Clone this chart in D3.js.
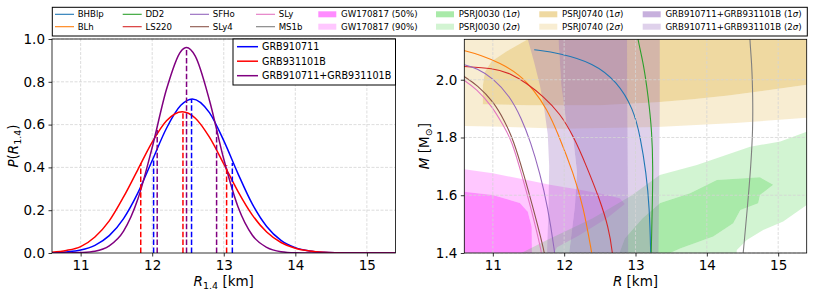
<!DOCTYPE html>
<html>
<head>
<meta charset="utf-8">
<script src="https://cdn.jsdelivr.net/npm/d3@7"></script>
<style>
  body { margin: 0; background: #fff; }
  svg { display: block; font-family: 'DejaVu Sans', sans-serif; }
</style>
</head>
<body>
<svg id="chart" width="814" height="298"></svg>
<script>
// ---- data ----

const rTicks = [11, 12, 13, 14, 15];
const pTicks = [0, 0.2, 0.4, 0.6, 0.8, 1.0];
const mTicks = [1.4, 1.6, 1.8, 2.0];

// left panel: P(R_1.4) posteriors
const grbNames = ['GRB910711', 'GRB931101B', 'GRB910711+GRB931101B'];

const pdf910711 = [
  [10.6, 0.001], [10.8, 0.005], [11.0, 0.014], [11.2, 0.036], [11.4, 0.081],
  [11.6, 0.161], [11.8, 0.281], [12.0, 0.432], [12.2, 0.583], [12.4, 0.690],
  [12.56, 0.720], [12.8, 0.656], [13.0, 0.525], [13.2, 0.370], [13.4, 0.228],
  [13.6, 0.124], [13.8, 0.059], [14.0, 0.025], [14.2, 0.009], [14.4, 0.003],
  [14.6, 0.001], [14.8, 0], [15.4, 0]
];
const pdf931101 = [
  [10.6, 0.004], [10.8, 0.012], [11.0, 0.030], [11.2, 0.075], [11.4, 0.150],
  [11.6, 0.262], [11.8, 0.390], [12.0, 0.518], [12.2, 0.618], [12.42, 0.660],
  [12.6, 0.631], [12.8, 0.541], [13.0, 0.416], [13.2, 0.287], [13.4, 0.177],
  [13.6, 0.098], [13.8, 0.049], [14.0, 0.022], [14.2, 0.009], [14.4, 0.003],
  [14.6, 0.001], [14.8, 0], [15.4, 0]
];
const pdfCombined = [
  [10.6, 0], [10.8, 0], [11.0, 0.002], [11.2, 0.008], [11.4, 0.033],
  [11.6, 0.102], [11.8, 0.252], [12.0, 0.493], [12.2, 0.765], [12.4, 0.942],
  [12.48, 0.960], [12.6, 0.921], [12.8, 0.714], [13.0, 0.439], [13.2, 0.215],
  [13.4, 0.083], [13.6, 0.026], [13.8, 0.006], [14.0, 0.001], [14.2, 0], [15.4, 0]
];

// dashed markers: [R, height] for lower bound, median, upper bound
const marks910711 = [[12.02, 0.44], [12.55, 0.72], [13.12, 0.42]];
const marks931101 = [[11.84, 0.42], [12.43, 0.66], [13.04, 0.41]];
const marksCombined = [[12.07, 0.575], [12.48, 0.96], [12.90, 0.575]];

// right panel: mass-radius curves [R, M], M decreasing along each list
const eosNames = ['BHBlp', 'BLh', 'DD2', 'LS220', 'SFHo', 'SLy4', 'SLy', 'MS1b'];

const eosBHBlp = [[11.58, 2.104], [11.94, 2.092], [12.41, 2.058], [12.74, 1.994], [12.97, 1.90],
  [13.07, 1.80], [13.15, 1.676], [13.195, 1.56], [13.214, 1.40], [13.215, 1.35]];
const eosBLh = [[10.5, 2.106], [10.6, 2.101], [10.82, 2.086], [11.1, 2.058], [11.38, 2.017],
  [11.57, 1.965], [11.756, 1.90], [11.92, 1.81], [12.13, 1.676],
  [12.27, 1.56], [12.387, 1.40], [12.42, 1.35]];
const eosDD2 = [[13.0, 2.2], [13.03, 2.14], [13.11, 2.06], [13.18, 1.94], [13.23, 1.82],
  [13.245, 1.70], [13.235, 1.55], [13.22, 1.40], [13.215, 1.35]];
const eosLS220 = [[10.5, 2.047], [10.6, 2.046], [11.007, 2.04], [11.24, 2.023], [11.475, 1.988],
  [11.71, 1.942], [11.94, 1.884], [12.13, 1.805], [12.317, 1.699], [12.5, 1.584],
  [12.62, 1.491], [12.68, 1.40], [12.69, 1.35]];
const eosSFHo = [[10.5, 2.057], [10.6, 2.052], [10.774, 2.04], [11.007, 2.005], [11.24, 1.942],
  [11.40, 1.867], [11.53, 1.785], [11.66, 1.676], [11.77, 1.56], [11.87, 1.40], [11.89, 1.35]];
const eosSLy4 = [[10.5, 2.027], [10.6, 2.011], [10.78, 1.982], [11.01, 1.924], [11.17, 1.855],
  [11.29, 1.79], [11.43, 1.676], [11.56, 1.56], [11.73, 1.40], [11.75, 1.35]];
const eosSLy = [[10.5, 2.014], [10.6, 1.998], [10.77, 1.968], [10.99, 1.908], [11.15, 1.84],
  [11.265, 1.79], [11.40, 1.676], [11.53, 1.56], [11.69, 1.40], [11.71, 1.35]];
const eosMS1b = [[14.6, 2.2], [14.6, 2.14], [14.63, 2.06], [14.645, 1.94], [14.645, 1.83],
  [14.62, 1.71], [14.57, 1.56], [14.51, 1.40], [14.49, 1.35]];

// credible regions (outer contour / inner contour), [R, M]
const gw90 = [[10.5, 1.695], [10.6, 1.69], [11.0, 1.676], [11.48, 1.653], [11.8, 1.636],
  [12.2, 1.62], [12.5, 1.606], [12.78, 1.59], [12.85, 1.57], [12.6, 1.52], [12.2, 1.46],
  [11.9, 1.42], [11.75, 1.35], [10.5, 1.35]];
const gw50 = [[10.5, 1.613], [10.6, 1.612], [11.0, 1.601], [11.38, 1.573], [11.49, 1.543],
  [11.545, 1.49], [11.55, 1.35], [10.5, 1.35]];

const psr0030Outer = [[11.3, 1.35], [11.4, 1.40], [11.76, 1.445], [12.4, 1.52], [12.95, 1.60],
  [13.34, 1.67], [13.86, 1.705], [14.28, 1.74], [14.607, 1.768], [15.03, 1.786], [15.4, 1.82],
  [15.5, 1.83], [15.5, 1.56], [15.4, 1.566], [15.07, 1.509], [14.79, 1.48], [14.56, 1.445],
  [14.42, 1.41], [14.4, 1.35]];
const psr0030Inner = [[12.7, 1.35], [12.85, 1.45], [13.1, 1.52], [13.345, 1.573], [13.765, 1.607],
  [14.14, 1.653], [14.745, 1.662], [14.93, 1.636], [14.745, 1.601], [14.72, 1.572],
  [14.47, 1.549], [14.37, 1.503], [14.09, 1.457], [13.625, 1.416], [13.485, 1.40], [13.45, 1.35]];

const psr0740Outer = [[10.5, 2.2], [10.5, 1.84], [11.0, 1.838], [12.0, 1.83], [13.3, 1.836],
  [14.4, 1.85], [15.4, 1.868], [15.5, 1.87], [15.5, 2.2]];
const psr0740Inner = [[11.55, 2.2], [11.49, 2.14], [11.19, 2.098], [10.98, 2.063], [10.89, 2.028],
  [10.86, 1.98], [10.86, 1.915], [11.5, 1.912], [12.5, 1.912], [13.3, 1.922], [13.8, 1.932],
  [14.3, 1.945], [14.8, 1.962], [15.4, 1.983], [15.5, 1.985], [15.5, 2.2]];

const grbOuter = [[11.46, 2.2], [11.49, 2.14], [11.58, 2.06], [11.66, 1.98], [11.72, 1.90],
  [11.77, 1.81], [11.79, 1.70], [11.78, 1.55], [11.76, 1.40], [11.76, 1.35],
  [13.32, 1.35], [13.33, 1.60], [13.34, 1.90], [13.34, 2.2]];
const grbInner = [[11.9, 2.2], [11.92, 2.14], [11.96, 1.98], [12.03, 1.85], [12.13, 1.79],
  [12.18, 1.68], [12.15, 1.56], [12.07, 1.40], [12.07, 1.35], [12.9, 1.35], [12.89, 1.80],
  [12.88, 2.2]];

const regionLabels = ['GW170817 (50%)', 'GW170817 (90%)', 'PSRJ0030 (1σ)', 'PSRJ0030 (2σ)',
  'PSRJ0740 (1σ)', 'PSRJ0740 (2σ)', 'GRB910711+GRB931101B (1σ)', 'GRB910711+GRB931101B (2σ)'];

// ---- styling ----
const grbColors = ['#0000ff', '#ff0000', '#800080'];
const eosColors = ['#1f77b4', '#ff7f0e', '#2ca02c', '#d62728', '#9467bd', '#8c564b', '#e377c2', '#7f7f7f'];
const regionColors = [
  'rgba(255,0,255,0.45)', 'rgba(255,0,255,0.22)',
  'rgba(50,205,50,0.42)', 'rgba(50,205,50,0.22)',
  'rgba(218,165,32,0.42)', 'rgba(218,165,32,0.2)',
  'rgba(148,103,189,0.52)', 'rgba(148,103,189,0.3)'
];

const FONT = "'DejaVu Sans', sans-serif";
const svg = d3.select('#chart');

const left = { x0: 52, x1: 395.5, y0: 39, y1: 253 };
const right = { x0: 464.3, x1: 806.7, y0: 39.3, y1: 253 };

const xL = d3.scaleLinear().domain([10.6, 15.4]).range([left.x0, left.x1]);
const yL = d3.scaleLinear().domain([0, 1]).range([left.y1, left.y0]);
const xR = d3.scaleLinear().domain([10.6, 15.4]).range([right.x0, right.x1]);
const yR = d3.scaleLinear().domain([1.4, 2.14]).range([right.y1, right.y0]);

const defs = svg.append('defs');
function addClip(id, p) {
  defs.append('clipPath').attr('id', id)
    .append('rect')
    .attr('x', p.x0).attr('y', p.y0)
    .attr('width', p.x1 - p.x0).attr('height', p.y1 - p.y0);
}
addClip('clip-left', left);
addClip('clip-right', right);

function drawGrid(x, y, xTicks, yTicks) {
  const g = svg.append('g').attr('class', 'grid')
    .attr('stroke', '#d4d4d4').attr('stroke-width', 0.8).attr('stroke-dasharray', '3,1.5');
  xTicks.forEach(t => {
    g.append('line').attr('x1', x(t)).attr('x2', x(t))
      .attr('y1', y.range()[0]).attr('y2', y.range()[1]);
  });
  yTicks.forEach(t => {
    g.append('line').attr('x1', x.range()[0]).attr('x2', x.range()[1])
      .attr('y1', y(t)).attr('y2', y(t));
  });
}

function drawAxes(x, y, xTicks, yTicks) {
  const xa = svg.append('g')
    .attr('transform', `translate(0,${y.range()[0]})`)
    .call(d3.axisBottom(x).tickValues(xTicks).tickFormat(d3.format('d')).tickSize(3.5).tickPadding(3.5));
  const ya = svg.append('g')
    .attr('transform', `translate(${x.range()[0]},0)`)
    .call(d3.axisLeft(y).tickValues(yTicks).tickFormat(d3.format('.1f')).tickSize(3.5).tickPadding(3.5));
  [xa, ya].forEach(a => {
    a.select('.domain').remove();
    a.selectAll('line').attr('stroke', '#000').attr('stroke-width', 0.8);
    a.selectAll('text').attr('font-size', 13.5).attr('font-family', FONT).attr('fill', '#000');
  });

  // frame
  svg.append('rect')
    .attr('x', x.range()[0]).attr('y', y.range()[1])
    .attr('width', x.range()[1] - x.range()[0])
    .attr('height', y.range()[0] - y.range()[1])
    .attr('fill', 'none').attr('stroke', '#000').attr('stroke-width', 0.8);
}

// label with italic sigma
function sigmaText(sel, str) {
  const parts = str.split('σ');
  parts.forEach((p, i) => {
    sel.append('tspan').text(p);
    if (i < parts.length - 1) sel.append('tspan').attr('font-style', 'italic').text('σ');
  });
}

// ---- left panel ----
drawGrid(xL, yL, rTicks, pTicks.slice(1));

const leftPlot = svg.append('g').attr('clip-path', 'url(#clip-left)');
const pdfLine = d3.line().x(d => xL(d[0])).y(d => yL(d[1])).curve(d3.curveMonotoneX);

[pdf910711, pdf931101, pdfCombined].forEach((data, i) => {
  leftPlot.append('path')
    .datum(data)
    .attr('d', pdfLine)
    .attr('fill', 'none')
    .attr('stroke', grbColors[i])
    .attr('stroke-width', 1.5);
});

[marks910711, marks931101, marksCombined].forEach((marks, i) => {
  leftPlot.selectAll(null)
    .data(marks)
    .enter().append('line')
    .attr('x1', d => xL(d[0])).attr('x2', d => xL(d[0]))
    .attr('y1', yL(0)).attr('y2', d => yL(d[1]))
    .attr('stroke', grbColors[i])
    .attr('stroke-width', 1.5)
    .attr('stroke-dasharray', '5.5,2.4');
});

drawAxes(xL, yL, rTicks, pTicks);

// axis titles
const xtL = svg.append('text')
  .attr('x', (left.x0 + left.x1) / 2).attr('y', 286)
  .attr('text-anchor', 'middle').attr('font-size', 13.5);
xtL.append('tspan').attr('font-style', 'italic').text('R');
xtL.append('tspan').attr('font-size', 9.5).attr('dy', 3).text('1.4');
xtL.append('tspan').attr('dy', -3).text(' [km]');

const ytL = svg.append('text')
  .attr('transform', `translate(18,${(left.y0 + left.y1) / 2}) rotate(-90)`)
  .attr('text-anchor', 'middle').attr('font-size', 13.5);
ytL.append('tspan').attr('font-style', 'italic').text('P');
ytL.append('tspan').text('(');
ytL.append('tspan').attr('font-style', 'italic').text('R');
ytL.append('tspan').attr('font-size', 9.5).attr('dy', 3).text('1.4');
ytL.append('tspan').attr('dy', -3).text(')');

// inner legend
const lg = svg.append('g');
lg.append('rect')
  .attr('x', 233).attr('y', left.y0).attr('width', left.x1 - 233).attr('height', 46)
  .attr('fill', '#fff').attr('stroke', '#000').attr('stroke-width', 1);
grbNames.forEach((name, i) => {
  const cy = 46.7 + i * 14.5;
  lg.append('line').attr('x1', 237).attr('x2', 258).attr('y1', cy).attr('y2', cy)
    .attr('stroke', grbColors[i]).attr('stroke-width', 1.5);
  lg.append('text').attr('x', 262).attr('y', cy + 3.5)
    .attr('font-size', 9.6).text(name);
});

// ---- right panel ----
const rightPlot = svg.append('g').attr('clip-path', 'url(#clip-right)');

function ring(pts) {
  return 'M' + pts.map(p => xR(p[0]) + ',' + yR(p[1])).join('L') + 'Z';
}

// [inner, outer] pairs; outer is drawn as an annulus
const regionPairs = [[gw50, gw90], [psr0030Inner, psr0030Outer], [psr0740Inner, psr0740Outer], [grbInner, grbOuter]];
regionPairs.forEach(([inner, outer], i) => {
  rightPlot.append('path')
    .attr('d', ring(outer) + ring(inner))
    .attr('fill-rule', 'evenodd')
    .attr('fill', regionColors[i * 2 + 1]);
  rightPlot.append('path')
    .attr('d', ring(inner))
    .attr('fill', regionColors[i * 2]);
});

drawGrid(xR, yR, rTicks, mTicks);

const mrLine = d3.line().x(d => xR(d[0])).y(d => yR(d[1])).curve(d3.curveBasis);
[eosBHBlp, eosBLh, eosDD2, eosLS220, eosSFHo, eosSLy4, eosSLy, eosMS1b].forEach((data, i) => {
  rightPlot.append('path')
    .datum(data)
    .attr('d', mrLine)
    .attr('fill', 'none')
    .attr('stroke', eosColors[i])
    .attr('stroke-width', 1.1);
});

drawAxes(xR, yR, rTicks, mTicks);

const xtR = svg.append('text')
  .attr('x', (right.x0 + right.x1) / 2).attr('y', 286)
  .attr('text-anchor', 'middle').attr('font-size', 13.5);
xtR.append('tspan').attr('font-style', 'italic').text('R');
xtR.append('tspan').text(' [km]');

const ytR = svg.append('text')
  .attr('transform', `translate(429,${(right.y0 + right.y1) / 2}) rotate(-90)`)
  .attr('text-anchor', 'middle').attr('font-size', 13.5);
ytR.append('tspan').attr('font-style', 'italic').text('M');
ytR.append('tspan').text(' [M');
ytR.append('tspan').attr('font-size', 9.5).attr('dy', 3).text('⊙');
ytR.append('tspan').attr('dy', -3).text(']');

// ---- top legend ----
const tl = svg.append('g');
tl.append('rect')
  .attr('x', 52.3).attr('y', 7.3).attr('width', 755).attr('height', 28.7)
  .attr('fill', '#fff').attr('stroke', '#000').attr('stroke-width', 1);

const colX = [55, 122.7, 190, 256, 318.3, 436, 539.3, 642.7];
const rowY = [14.3, 26.7];

eosNames.forEach((name, i) => {
  const cx = colX[Math.floor(i / 2)], cy = rowY[i % 2];
  tl.append('line').attr('x1', cx).attr('x2', cx + 19).attr('y1', cy).attr('y2', cy)
    .attr('stroke', eosColors[i]).attr('stroke-width', 1.1);
  tl.append('text').attr('x', cx + 22.7).attr('y', cy + 3.1).attr('font-size', 8.6).text(name);
});
regionLabels.forEach((name, i) => {
  const cx = colX[4 + Math.floor(i / 2)], cy = rowY[i % 2];
  tl.append('rect').attr('x', cx).attr('y', cy - 3).attr('width', 18).attr('height', 6)
    .attr('fill', regionColors[i]);
  const t = tl.append('text').attr('x', cx + 22.7).attr('y', cy + 3.1).attr('font-size', 8.6);
  sigmaText(t, name);
});
</script>
</body>
</html>
